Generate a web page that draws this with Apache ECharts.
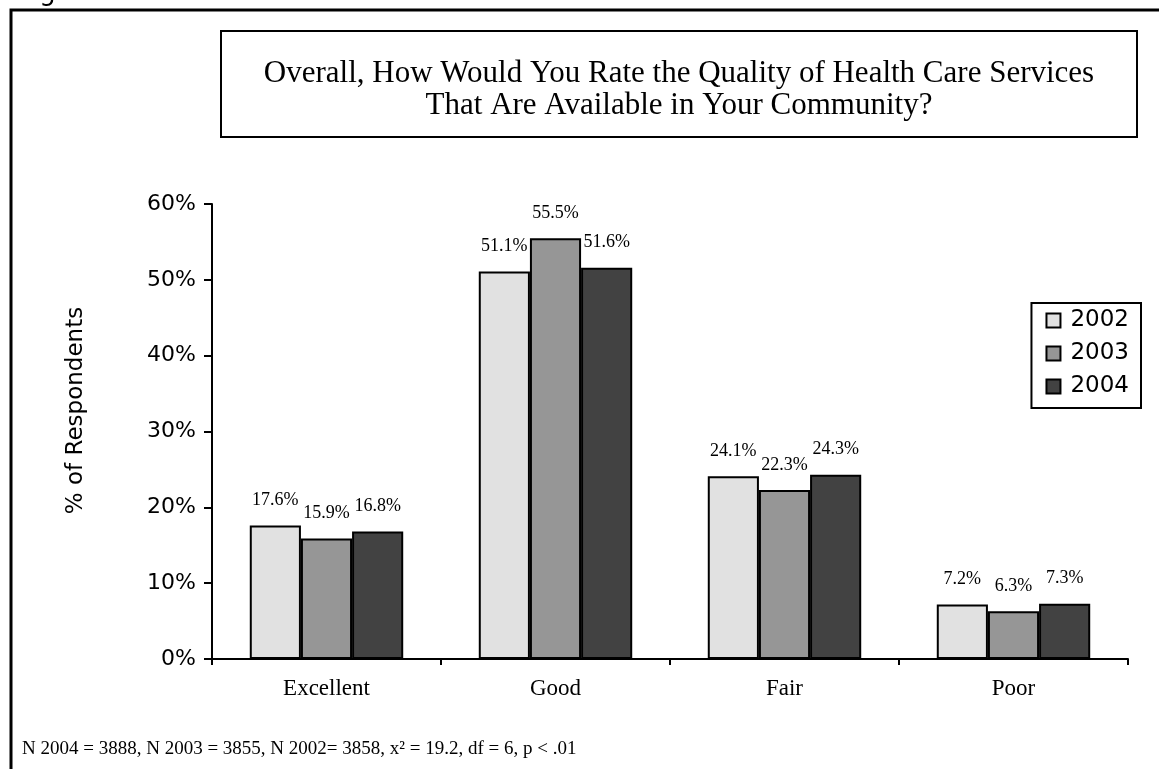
<!DOCTYPE html>
<html>
<head>
<meta charset="utf-8">
<script src="https://cdn.jsdelivr.net/npm/echarts@6/dist/echarts.min.js"></script>
<style>
html,body{margin:0;padding:0;background:#fff;}
#chart{width:1159px;height:769px;}
</style>
</head>
<body>
<div id="chart"></div>
<script>
const categories = ['Excellent', 'Good', 'Fair', 'Poor'];
const seriesNames = ['2002', '2003', '2004'];
const values2002 = [17.6, 51.1, 24.1, 7.2];
const values2003 = [15.9, 55.5, 22.3, 6.3];
const values2004 = [16.8, 51.6, 24.3, 7.3];
const yTicks = [0, 10, 20, 30, 40, 50, 60];
const titleLines = ['Overall, How Would You Rate the Quality of Health Care Services', 'That Are Available in Your Community?'];
const footnote = 'N 2004 = 3888, N 2003 = 3855, N 2002= 3858, x² = 19.2, df = 6, p < .01';

const colors = ['#e1e1e1', '#969696', '#424242'];
const serif = '"Liberation Serif", "Times New Roman", serif';
const sans = '"DejaVu Sans", sans-serif';

const chart = echarts.init(document.getElementById('chart'));
const allValues = [values2002, values2003, values2004];

const option = {
  animation: false,
  backgroundColor: '#fff',
  grid: { left: 212, right: 31, top: 204, bottom: 110, containLabel: false },
  legend: {
    orient: 'vertical',
    right: 18,
    top: 303,
    data: seriesNames,
    icon: 'rect',
    itemWidth: 14,
    itemHeight: 14,
    itemGap: 10,
    padding: [6, 12, 10, 14],
    borderColor: '#000',
    borderWidth: 2,
    backgroundColor: '#fff',
    itemStyle: { borderColor: '#000', borderWidth: 2 },
    textStyle: { fontFamily: sans, fontSize: 23, color: '#000', padding: [0, 0, 0, 5] }
  },
  xAxis: {
    type: 'category',
    data: categories,
    axisLine: { lineStyle: { color: '#000', width: 2 } },
    axisTick: { show: true, length: 6, alignWithLabel: false, lineStyle: { color: '#000', width: 2 } },
    axisLabel: { fontFamily: serif, fontSize: 23, color: '#000', margin: 18 }
  },
  yAxis: {
    type: 'value',
    min: yTicks[0],
    max: yTicks[yTicks.length - 1],
    interval: 10,
    name: '% of Respondents',
    nameLocation: 'middle',
    nameGap: 124,
    nameTextStyle: { fontFamily: sans, fontSize: 23, color: '#000', padding: [0, 0, 0, 42] },
    axisLine: { show: true, lineStyle: { color: '#000', width: 2 } },
    axisTick: { show: true, length: 8, lineStyle: { color: '#000', width: 2 } },
    splitLine: { show: false },
    axisLabel: { fontFamily: sans, fontSize: 22, color: '#000', margin: 16, formatter: '{value}%' }
  },
  series: seriesNames.map((name, i) => ({
    name: name,
    type: 'bar',
    data: allValues[i],
    barGap: '0%',
    barCategoryGap: '33%',
    itemStyle: { color: colors[i], borderColor: '#000', borderWidth: 2 },
    label: {
      show: true,
      position: 'top',
      distance: 16,
      fontFamily: serif,
      fontSize: 18,
      color: '#000',
      formatter: p => p.value.toFixed(1) + '%'
    }
  })),
  graphic: [
    { type: 'polyline', silent: true, shape: { points: [[11, 769], [11, 10], [1160, 10]] }, style: { stroke: '#000', lineWidth: 3, fill: null } },
    { type: 'text', left: 19, top: -20, style: { text: 'Figure 3', font: '26px "DejaVu Sans", sans-serif', fill: '#000' } },
    { type: 'rect', shape: { x: 221, y: 31, width: 916, height: 106 }, style: { fill: '#fff', stroke: '#000', lineWidth: 2 } },
    { type: 'text', x: 679, y: 74, style: { text: titleLines[0], font: '31px "Liberation Serif", serif', fill: '#000', textAlign: 'center', textVerticalAlign: 'middle' } },
    { type: 'text', x: 679, y: 106, style: { text: titleLines[1], font: '31px "Liberation Serif", serif', fill: '#000', textAlign: 'center', textVerticalAlign: 'middle' } },
    { type: 'text', x: 22, y: 749, style: { text: footnote, font: '19px "Liberation Serif", serif', fill: '#000', textVerticalAlign: 'middle' } }
  ]
};
chart.setOption(option);
</script>
</body>
</html>
